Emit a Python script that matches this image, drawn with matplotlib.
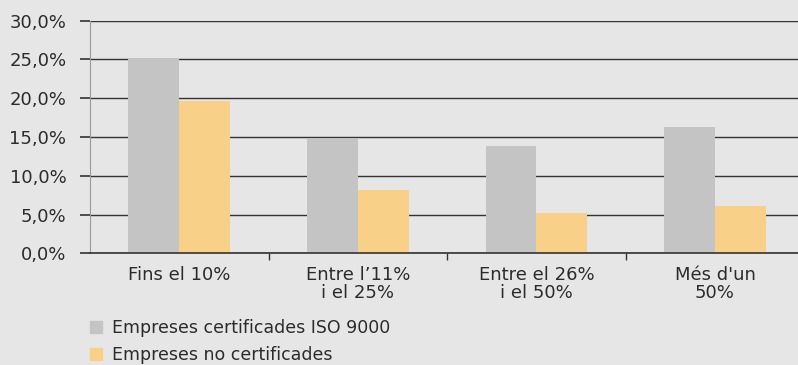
import matplotlib.pyplot as plt
import numpy as np
from matplotlib.patches import Patch

# dades
categories = ["Fins el 10%", "Entre l\u201911%\ni el 25%", "Entre el 26%\ni el 50%", "Més d'un\n50%"]
certificades = [25.0, 14.7, 13.8, 16.3]
no_certificades = [19.6, 8.2, 5.2, 6.1]
serie_labels = ["Empreses certificades ISO 9000", "Empreses no certificades"]

GRIS = '#c4c4c4'
GROC = '#f9d088'
FONS = '#e6e6e6'
TEXT = '#2b2b2b'

W, H = 798, 365
fig = plt.figure(figsize=(W / 100, H / 100), dpi=100, facecolor=FONS)
ax = fig.add_axes([90 / W, (H - 253.3) / H, (W - 90) / W, (253.3 - 20.7) / H])
ax.set_facecolor(FONS)

x = np.arange(len(categories))
bw = 0.285
ax.bar(x - bw / 2, certificades, bw, color=GRIS, zorder=3)
ax.bar(x + bw / 2, no_certificades, bw, color=GROC, zorder=3)

ax.set_xlim(-0.5, 3.465)
ax.set_ylim(0, 30)
ax.set_yticks(np.arange(0, 31, 5))
ax.set_yticklabels([f"{v:.1f}%".replace('.', ',') for v in np.arange(0, 31, 5)])
ax.yaxis.grid(True, color='#333333', linewidth=1.0, zorder=0)
ax.tick_params(axis='y', length=7, width=1.2, color='#333333', labelsize=13, labelcolor=TEXT, pad=10)

ax.set_xticks(x)
ax.set_xticklabels(categories, linespacing=1.05)
ax.set_xticks([0.5, 1.5, 2.5], minor=True)
ax.tick_params(axis='x', which='major', length=0, labelsize=13, labelcolor=TEXT, pad=9)
ax.tick_params(axis='x', which='minor', length=5, width=1.0, color='#333333')

for s in ['top', 'right']:
    ax.spines[s].set_visible(False)
ax.spines['left'].set_color('#9a9a9a')
ax.spines['bottom'].set_color('#333333')
ax.spines['bottom'].set_linewidth(1.2)
ax.spines['bottom'].set_zorder(4)

handles = [Patch(color=GRIS), Patch(color=GROC)]
fig.legend(handles, serie_labels, loc='upper left', bbox_to_anchor=(90 / W, 1 - 319 / H),
           frameon=False, fontsize=12.5, labelcolor=TEXT, handlelength=0.69, handleheight=0.69,
           handletextpad=0.6, labelspacing=0.5, borderaxespad=0, borderpad=0)

fig.savefig('out.png', dpi=100, facecolor=FONS)
